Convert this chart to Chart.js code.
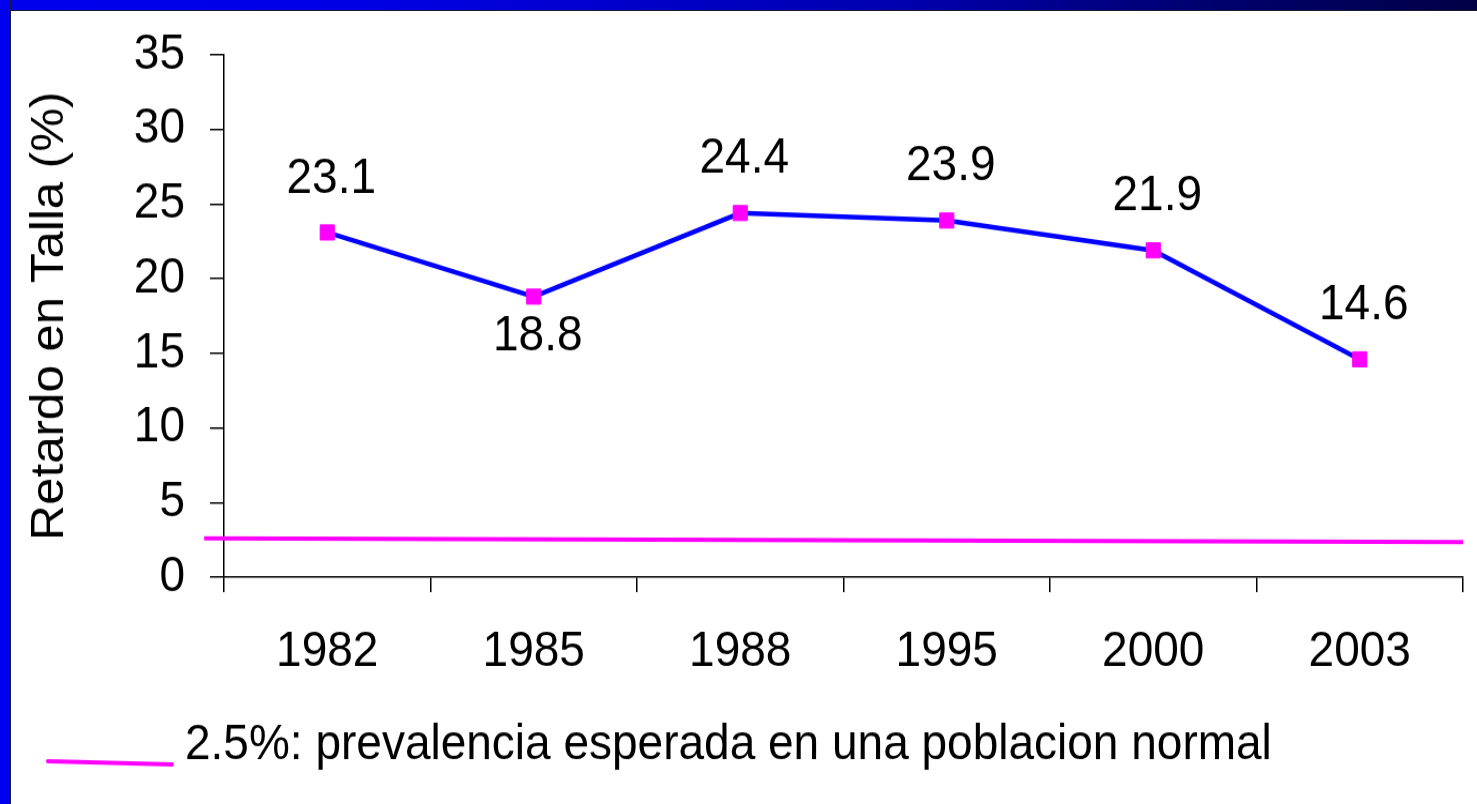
<!DOCTYPE html>
<html>
<head>
<meta charset="utf-8">
<script src="https://cdn.jsdelivr.net/npm/chart.js@4"></script>
<style>
  html, body { margin: 0; padding: 0; background: #fff; overflow: hidden; }
  #barraTopo {
    position: absolute; left: 0; top: 0; width: 1477px; height: 10px;
    background: linear-gradient(to right, #0000ee 0%, #0000e4 25%, #0000d6 35%, #0000b0 60%, #00009a 68%, #000070 81%, #000045 100%);
    border-bottom: 1px solid #1a1a33;
  }
  #barraEsq {
    position: absolute; left: 0; top: 0; width: 10px; height: 804px;
    background: #0000ee; border-right: 1px solid #1a1a33;
  }
  #caixa { position: absolute; left: 11px; top: 11px; width: 1466px; height: 793px; }
</style>
</head>
<body>
<div id="barraTopo"></div>
<div id="barraEsq"></div>
<div id="caixa">
  <!-- o slide original é um pouco esticado na vertical: o canvas tem 741px e é mostrado com 793px -->
  <canvas id="graficoTalla" width="1466" height="741" style="width:1466px;height:793px"></canvas>
</div>
<script>
// ---------- Dados ----------
const anos = ['1982', '1985', '1988', '1995', '2000', '2003'];
const retardoTalla = [23.1, 18.8, 24.4, 23.9, 21.9, 14.6];
const ticksY = [0, 5, 10, 15, 20, 25, 30, 35];
const prevalenciaEsperada = [2.6, 2.35]; // linha de referência (começo, fim)
const tituloY = 'Retardo en Talla (%)';
const legendaTexto = '2.5%: prevalencia esperada en una poblacion normal';

const fonte = "'Liberation Sans', Arial, sans-serif";
const TAM = 46;
const AZUL = '#0000ff';
const MAGENTA = '#ff00ff';

// rótulos de valor em cima (ou embaixo) de cada ponto
const rotulosPlugin = {
  id: 'rotulos',
  afterDatasetsDraw(chart) {
    const ctx = chart.ctx;
    const meta = chart.getDatasetMeta(0);
    ctx.save();
    ctx.font = TAM + 'px ' + fonte;
    ctx.fillStyle = '#000';
    ctx.textAlign = 'center';
    ctx.textBaseline = 'middle';
    meta.data.forEach(function (pt, i) {
      const v = retardoTalla[i];
      const prev = retardoTalla[i - 1], next = retardoTalla[i + 1];
      const embaixo = prev !== undefined && next !== undefined && v < prev && v < next;
      ctx.fillText(v.toFixed(1), pt.x + 4, embaixo ? pt.y + 37 : pt.y - 50);
    });
    ctx.restore();
  }
};

// legenda da linha de referência
const legendaPlugin = {
  id: 'legendaRef',
  afterDraw(chart) {
    const ctx = chart.ctx;
    const yBase = chart.height - 55;
    ctx.save();
    ctx.strokeStyle = MAGENTA;
    ctx.lineWidth = 4;
    ctx.lineCap = 'round';
    ctx.beginPath();
    ctx.moveTo(37, yBase + 15);
    ctx.lineTo(161, yBase + 18);
    ctx.stroke();
    ctx.font = TAM + 'px ' + fonte;
    ctx.fillStyle = '#000';
    ctx.textAlign = 'left';
    ctx.textBaseline = 'middle';
    ctx.fillText(legendaTexto, 174, yBase);
    ctx.restore();
  }
};

const ctx = document.getElementById('graficoTalla').getContext('2d');
new Chart(ctx, {
  type: 'line',
  data: {
    labels: anos,
    datasets: [
      {
        label: tituloY,
        data: retardoTalla,
        borderColor: AZUL,
        borderWidth: 4.5,
        pointStyle: 'rect',
        pointRadius: 10,
        pointBackgroundColor: MAGENTA,
        pointBorderColor: MAGENTA,
        pointBorderWidth: 1,
        tension: 0
      },
      {
        label: legendaTexto,
        xAxisID: 'x2',
        data: [{ x: -0.016, y: prevalenciaEsperada[0] }, { x: 1, y: prevalenciaEsperada[1] }],
        borderColor: MAGENTA,
        borderWidth: 4,
        pointRadius: 0,
        clip: false,
        tension: 0
      }
    ]
  },
  options: {
    responsive: false,
    animation: false,
    layout: { padding: { top: 41, right: 14, bottom: 122, left: 0 } },
    plugins: {
      legend: { display: false },
      tooltip: { enabled: false }
    },
    scales: {
      x: {
        type: 'category',
        offset: true,
        grid: { offset: true, drawOnChartArea: false, color: '#000', tickLength: 14, lineWidth: 1.5 },
        border: { color: '#000', width: 1.5 },
        ticks: { color: '#000', font: { family: fonte, size: TAM }, padding: 29, maxRotation: 0 },
        afterFit(scale) { scale.height = 90; }
      },
      x2: {
        type: 'linear',
        display: false,
        min: 0,
        max: 1
      },
      y: {
        min: 0,
        max: 35,
        afterBuildTicks(scale) { scale.ticks = ticksY.map(v => ({ value: v })); },
        grid: { drawOnChartArea: false, color: '#000', tickLength: 14, lineWidth: 1.5 },
        border: { color: '#000', width: 1.5 },
        ticks: { color: '#000', font: { family: fonte, size: TAM }, padding: 25 },
        title: {
          display: true,
          text: tituloY,
          color: '#000',
          font: { family: fonte, size: TAM },
          padding: { top: 12, bottom: 0 }
        },
        afterFit(scale) {
          scale.width = 213;
          // o topo da área é controlado só pelo padding do layout
          scale.paddingTop = 0;
          scale.paddingBottom = 0;
        }
      }
    }
  },
  plugins: [rotulosPlugin, legendaPlugin]
});
</script>
</body>
</html>
